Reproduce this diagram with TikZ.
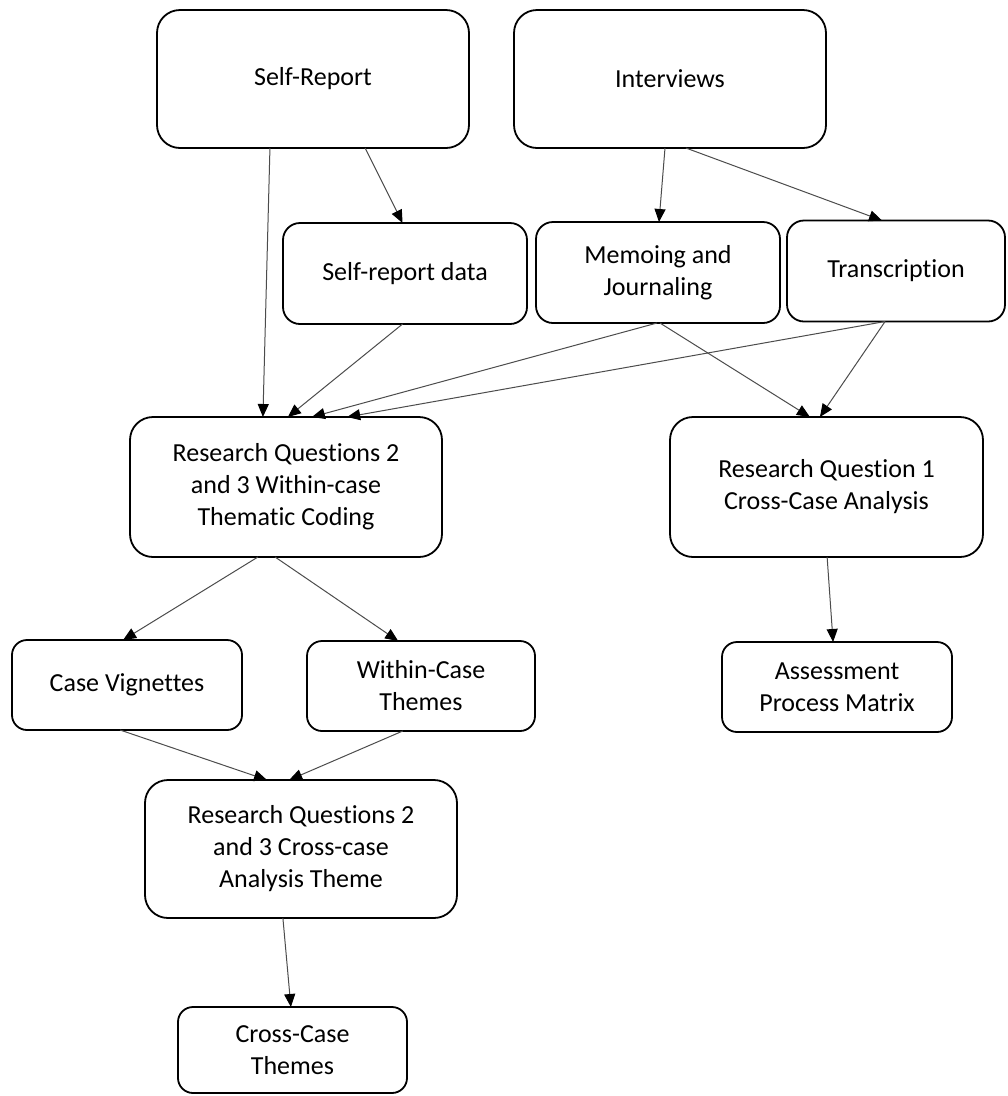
\documentclass[tikz,border=0pt]{standalone}
\usepackage{fontspec}
\setmainfont[Ligatures={NoCommon}]{Carlito}
\usetikzlibrary{arrows.meta,calc}

\tikzset{
  box/.style={draw=black, line width=1.8pt, fill=white, align=center,
    inner sep=0pt, outer sep=0pt, font=\fontsize{26}{32}\selectfont},
  bigbox/.style={box, minimum width=312pt, minimum height=138pt, rounded corners=23pt},
  midbox/.style={box, minimum height=101pt, rounded corners=17pt},
  smallbox/.style={box, minimum width=230pt, minimum height=90pt, rounded corners=15pt},
  conn/.style={draw=black!70, line width=1pt,
    -{Triangle[length=13pt,width=11pt,color=black]}},
}

% connector from a point on the bottom edge of #1 (fraction #2)
% to a point on the top edge of #3 (fraction #4)
\newcommand\edgeconn[4]{%
  \draw[conn] ($(#1.south west)!#2!(#1.south east)$) -- ($(#3.north west)!#4!(#3.north east)$);}

\begin{document}
\begin{tikzpicture}[x=1pt,y=-1pt]
\path[use as bounding box, fill=white] (0,0) rectangle (1008,1096);

% sources
\node[bigbox] (sr)  at (313,79) {Self-Report};
\node[bigbox] (int) at (670,79) {Interviews};

% intermediate data
\node[midbox, minimum width=244pt] (srd)  at (405,273.5) {Self-report data};
\node[midbox, minimum width=244pt] (memo) at (658,272.5) {Memoing and\\Journaling};
\node[midbox, minimum width=218pt] (tr)   at (896,271) {Transcription};

% analysis
\node[bigbox, minimum height=140pt] (rq23) at (286,487) {Research Questions 2\\and 3 Within-case\\Thematic Coding};
\node[bigbox, minimum height=140pt, minimum width=313pt] (rq1) at (826.5,487) {Research Question 1\\Cross-Case Analysis};

% results
\node[smallbox] (cv)  at (127,685) {Case Vignettes};
\node[smallbox, minimum width=228pt] (wct) at (421,686) {Within-Case\\Themes};
\node[smallbox] (apm) at (837,687) {Assessment\\Process Matrix};

\node[bigbox] (rqc) at (301,849) {Research Questions 2\\and 3 Cross-case\\Analysis Theme};
\node[smallbox, minimum width=229pt, minimum height=86pt] (cct) at (292.5,1050) {Cross-Case\\Themes};

% connectors
\edgeconn{sr}{0.362}{rq23}{0.426}
\edgeconn{sr}{0.667}{srd}{0.49}
\edgeconn{int}{0.484}{memo}{0.504}
\edgeconn{int}{0.551}{tr}{0.436}
\edgeconn{srd}{0.49}{rq23}{0.506}
\edgeconn{memo}{0.496}{rq23}{0.583}
\edgeconn{tr}{0.45}{rq23}{0.696}
\edgeconn{memo}{0.508}{rq1}{0.447}
\edgeconn{tr}{0.45}{rq1}{0.479}
\edgeconn{rq23}{0.41}{cv}{0.483}
\edgeconn{rq23}{0.465}{wct}{0.4}
\edgeconn{rq1}{0.502}{apm}{0.483}
\edgeconn{cv}{0.47}{rqc}{0.391}
\edgeconn{wct}{0.42}{rqc}{0.462}
\edgeconn{rqc}{0.442}{cct}{0.493}
\end{tikzpicture}
\end{document}
